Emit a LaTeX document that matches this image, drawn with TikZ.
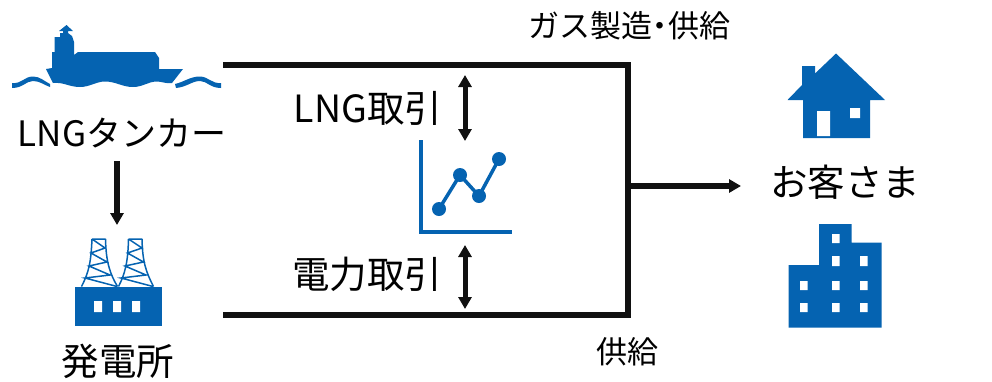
\documentclass[tikz,border=0pt]{standalone}
\usepackage{fontspec}
\usepackage{xcolor}
\setmainfont{Noto Sans CJK JP}
\usetikzlibrary{arrows.meta}
\definecolor{iconblue}{HTML}{0563B1}
\definecolor{linkblack}{HTML}{111111}
\tikzset{
  label37/.style={inner sep=0pt, font=\fontsize{37.5}{38}\selectfont},
  label31/.style={inner sep=0pt, font=\fontsize{31}{31}\selectfont},
  frameline/.style={draw=linkblack, line width=6pt},
  flow/.style={draw=linkblack, line width=5.5pt, -{Triangle[width=13pt,length=12pt]}},
  trade/.style={draw=linkblack, line width=5pt, {Triangle[width=13pt,length=12pt]}-{Triangle[width=13pt,length=12pt]}},
  icon/.style={fill=iconblue},
  hole/.style={fill=white}
}
\begin{document}
\begin{tikzpicture}[x=1pt, y=-1pt]
      \useasboundingbox (0,0) rectangle (992,381);

      \node[label37, font=\fontsize{35}{35}\selectfont, name=tanker] at (122,133) {LNGタンカー};
      \node[label37, name=plant] at (118,361) {発電所};
      \node[label37, name=customer] at (845,182) {お客さま};
      \node[label37, name=lngtrade] at (368,108) {LNG取引};
      \node[label37, name=powertrade] at (367,274) {電力取引};
      \node[label31, name=gas] at (629,26) {ガス製造\hspace{-7.5pt}・\hspace{-7.5pt}供給};
      \node[label31, name=supply] at (627,352) {供給};

      \coordinate (topleft) at (223,65);
      \coordinate (topright) at (628,65);
      \coordinate (bottomright) at (628,315);
      \coordinate (bottomleft) at (223,315);
      \coordinate (branch) at (628,186);
      \coordinate (home) at (741,186);
      \coordinate (shipfoot) at (117,161);
      \coordinate (planttop) at (117,225);
      \coordinate (lngup) at (465,75);
      \coordinate (lngdown) at (465,141);
      \coordinate (powerup) at (465,245);
      \coordinate (powerdown) at (465,309);

      \draw[frameline] (topleft) -- (topright) -- (bottomright) -- (bottomleft);
      \path
         (branch) edge[flow] (home)
         (shipfoot) edge[flow] (planttop)
         (lngup) edge[trade] (lngdown)
         (powerup) edge[trade] (powerdown);

      \fill[icon] (52,68) -- (52,52) -- (54.5,52) -- (54.5,37) -- (60,37) -- (60,33) -- (63,33)
         -- (63,31) -- (59,31) -- (66.5,25) -- (73,31) -- (68,31) -- (68,33) -- (72,36)
         -- (74,42) -- (74,55) -- (78,52) -- (155,52) -- (159,58) -- (159,69)
         -- (183,69) -- (172,83) .. controls (166,84) and (162,81.5) .. (157,81.5)
         .. controls (148,81.5) and (143,87) .. (133,87) .. controls (122,87) and (116,81.5) .. (105,81.5)
         .. controls (96,81.5) and (90,87) .. (80,87) .. controls (69,87) and (64,82) .. (53,83)
         -- (46,69) -- cycle;
      \fill[icon] (12,83) .. controls (22,84) and (24,76.5) .. (33,76.5)
         .. controls (40,76.5) and (44,81) .. (50,84) -- (50,87) .. controls (44,85) and (40,81) .. (33,81)
         .. controls (26,81) and (23,88) .. (12,88) -- cycle;
      \fill[icon] (175,84) .. controls (184,82) and (190,76.5) .. (200,76.5)
         .. controls (208,76.5) and (212,84) .. (221,83) -- (221,88)
         .. controls (210,88) and (207,81) .. (200,81) .. controls (192,81) and (187,87) .. (176,88) -- cycle;

      \draw[draw=iconblue, line width=1.5pt]
         (92,239) -- (105.5,239) (92,239) .. controls (91,262) and (89,272) .. (81.5,286.5)
         (105.5,239) .. controls (106,262) and (110,274) .. (117.5,286.5)
         (92,239) -- (105,248) -- (91,253) -- (107,262) -- (89,266) -- (110,275) -- (85,278) -- (117,286.5)
         (128.5,239) -- (142,239) (128.5,239) .. controls (128,262) and (125,274) .. (118.5,286.5)
         (142,239) .. controls (142.5,262) and (146,272) .. (153.5,286.5)
         (128.5,239) -- (142,248) -- (127.5,253) -- (143.5,262) -- (125,266) -- (146,275) -- (121,278) -- (153,286.5);
      \fill[icon] (74.5,286.5) rectangle (161.5,326);
      \fill[hole] (94,301) rectangle (102,312) (113,301) rectangle (121,312) (132,301) rectangle (140,312);

      \draw[draw=iconblue, line width=4pt] (421,140) -- (421,232) -- (512,232);
      \draw[draw=iconblue, line width=3.5pt] (439,209) -- (460,175) -- (479,196) -- (499,159);
      \fill[icon] (439,209) circle (7) (460,175) circle (7) (479,196) circle (7) (499,159) circle (7);

      \fill[icon] (836,53.5) -- (885,100) -- (870,100) -- (870,138) -- (803,138) -- (803,100) -- (787.5,100)
         -- (802,85) -- (802,66) -- (815,66) -- (815,73.5) -- cycle;
      \fill[hole] (817,111) rectangle (830,136) (850,108) rectangle (860,118);

      \fill[icon] (788.5,265) -- (819,265) -- (819,224) -- (851.5,224) -- (851.5,242.5) -- (881.5,242.5)
         -- (881.5,327.5) -- (788.5,327.5) -- cycle;
      \fill[hole] (832,234) rectangle (839.5,243)
         (832,256) rectangle (839.5,266) (860,256) rectangle (867.5,266)
         (800,281) rectangle (807.5,290) (832,281) rectangle (839.5,290) (860,281) rectangle (867.5,290)
         (800,303) rectangle (807.5,312) (832,303) rectangle (839.5,312) (860,303) rectangle (867.5,312);
   \end{tikzpicture}
\end{document}
